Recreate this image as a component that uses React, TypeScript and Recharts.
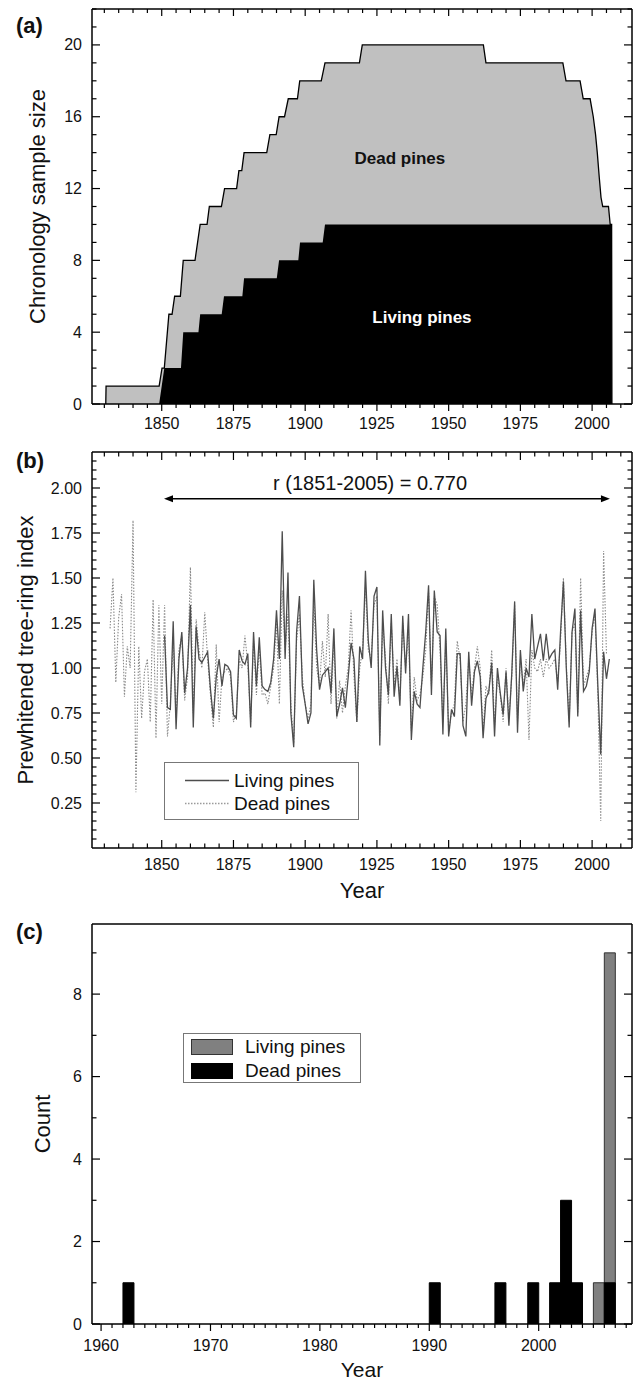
import React from 'react';
import {
  ComposedChart,
  BarChart,
  Area,
  Line,
  Bar,
  XAxis,
  YAxis,
  ReferenceDot,
  ReferenceLine,
  Legend,
} from 'recharts';

const FONT = "'Liberation Sans', Arial, Helvetica, sans-serif";
const INK = '#111';

// ---------------- helpers for tick lists ----------------
function range(a: number, b: number, step: number): number[] {
  const out: number[] = [];
  const n = Math.round((b - a) / step);
  for (let i = 0; i <= n; i++) out.push(Math.round((a + i * step) * 1000) / 1000);
  return out;
}

// ---------------- (a) chronology sample size ----------------
const totalYears = [
  1830.5, 1830.6, 1849.1, 1850.1, 1850.9, 1852.5, 1853.6, 1854.5, 1856.5, 1857.5,
  1861.6, 1863.4, 1865.8, 1866.6, 1870.8, 1871.9, 1876.1, 1876.9, 1877.9, 1878.7,
  1886.6, 1887.7, 1889.9, 1890.9, 1892.8, 1894.1, 1897.3, 1898.1, 1905.6, 1906.9,
  1918.9, 1919.9, 1962.1, 1963.0, 1989.8, 1990.9, 1995.8, 1996.9, 1999.3, 2000.4,
  2001.2, 2001.8, 2002.5, 2003.1, 2003.7, 2005.7, 2006.3, 2006.8, 2006.9,
];
const totalCounts = [
  0, 1, 1, 2, 2, 5, 5, 6, 6, 8,
  8, 10, 10, 11, 11, 12, 12, 13, 13, 14,
  14, 15, 15, 16, 16, 17, 17, 18, 18, 19,
  19, 20, 20, 19, 19, 18, 18, 17, 17, 16,
  15, 14, 12.6, 11.5, 11, 11, 10, 10, 0,
];
const livingYears = [
  1849.1, 1850.0, 1850.9, 1856.7, 1857.5, 1862.8, 1863.4, 1870.9, 1871.7, 1878.1,
  1878.7, 1890.1, 1890.9, 1897.6, 1898.2, 1906.1, 1906.9, 2006.8, 2006.9,
];
const livingCounts = [0, 1, 2, 2, 4, 4, 5, 5, 6, 6, 7, 7, 8, 8, 9, 9, 10, 10, 0];

const areaLabels = [
  { text: 'Dead pines', year: 1933, value: 13.7, color: '#111' },
  { text: 'Living pines', year: 1940.7, value: 4.86, color: '#fff' },
];

// ---------------- (b) prewhitened tree-ring index ----------------
const livingIndexFirstYear = 1851;
const livingIndex = [
  1.18, 0.78, 0.77, 1.26, 0.66, 1.05, 1.20, 0.86, 1.00, 1.35,
  0.67, 1.23, 1.05, 1.03, 1.06, 1.09, 0.88, 0.72, 0.95, 1.05,
  0.90, 1.02, 1.01, 0.98, 0.74, 0.72, 1.10, 1.04, 1.02, 1.08,
  0.67, 1.20, 0.90, 1.17, 0.90, 0.88, 0.87, 0.92, 1.05, 1.32,
  1.05, 1.76, 1.05, 1.53, 0.75, 0.56, 1.20, 1.40, 0.90, 0.80,
  0.69, 0.75, 1.49, 1.10, 0.88, 0.96, 0.98, 1.00, 0.86, 1.22,
  0.73, 0.80, 0.89, 0.78, 0.95, 1.14, 1.05, 0.70, 1.12, 1.05,
  1.54, 1.15, 1.00, 1.40, 1.45, 0.57, 1.32, 1.00, 0.85, 1.30,
  0.84, 1.01, 0.79, 1.29, 0.97, 1.30, 0.60, 0.87, 0.80, 0.78,
  1.00, 1.20, 1.46, 0.85, 1.43, 1.20, 1.18, 0.63, 1.22, 0.62,
  0.77, 0.73, 1.08, 1.08, 0.68, 0.62, 1.09, 0.79, 0.98, 1.04,
  0.95, 0.61, 0.83, 0.87, 1.03, 0.62, 1.00, 0.86, 0.74, 0.98,
  0.68, 0.97, 1.37, 0.64, 1.10, 0.87, 1.00, 0.95, 1.30, 1.05,
  1.12, 1.19, 1.04, 1.19, 1.05, 1.08, 1.10, 0.88, 1.20, 1.48,
  1.00, 0.67, 1.20, 1.33, 0.73, 1.32, 0.87, 0.90, 0.98, 1.22,
  1.33, 0.90, 0.52, 1.09, 0.94, 1.05,
];
const deadIndexFirstYear = 1832;
const deadIndex = [
  1.22, 1.50, 0.92, 1.28, 1.41, 0.84, 1.12, 1.00, 1.82,
  0.31, 1.12, 0.72, 0.98, 1.05, 0.70, 1.38, 0.61, 1.35, 0.80,
  1.35, 0.62, 0.80, 1.15, 0.72, 1.10, 1.18, 0.82, 0.95, 1.56,
  0.75, 1.27, 1.10, 1.00, 1.31, 1.05, 0.85, 0.67, 1.13, 0.70,
  0.95, 0.98, 1.00, 0.95, 0.70, 0.75, 1.05, 1.00, 1.18, 1.02,
  0.70, 1.15, 0.85, 1.12, 0.85, 0.86, 0.80, 0.90, 1.00, 1.25,
  0.80, 1.43, 1.10, 1.30, 0.80, 0.58, 1.15, 1.30, 0.95, 0.80,
  0.72, 0.80, 1.38, 1.00, 0.90, 1.15, 0.95, 1.30, 0.80, 1.15,
  0.72, 0.93, 0.75, 0.90, 1.00, 1.32, 0.95, 0.70, 1.00, 1.10,
  1.45, 1.10, 1.05, 1.35, 1.40, 0.62, 1.25, 1.05, 0.80, 1.25,
  0.90, 1.05, 0.82, 1.25, 1.00, 1.20, 0.65, 0.95, 0.82, 0.85,
  0.95, 1.10, 1.43, 0.90, 1.40, 1.35, 1.10, 0.70, 1.15, 0.65,
  0.75, 0.80, 1.15, 1.05, 0.70, 0.80, 1.05, 0.85, 1.00, 1.12,
  1.00, 0.65, 0.90, 0.85, 1.10, 0.68, 0.95, 0.85, 0.70, 1.00,
  0.72, 0.95, 1.35, 0.70, 1.05, 0.90, 1.05, 0.60, 1.10, 1.00,
  0.98, 1.05, 0.95, 1.05, 1.00, 1.02, 1.05, 0.92, 1.15, 1.50,
  1.02, 0.70, 1.20, 1.25, 0.75, 1.50, 0.90, 0.95, 1.00, 1.20,
  1.30, 0.85, 0.15, 1.65, 1.08,
];
const corrText = 'r (1851-2005) = 0.770';
const corrSpan = [1850.8, 2006.2];
const corrLevel = 1.94;
const corrTextPos = { year: 1922.6, value: 2.03 };

// ---------------- (c) death years ----------------
const livingDeathYears = [2005, 2006];
const livingDeathCounts = [1, 9];
const deadDeathYears = [1962, 1990, 1996, 1999, 2001, 2002, 2003, 2006];
const deadDeathCounts = [1, 1, 1, 1, 1, 3, 1, 1];

// ---------------- series names / colours ----------------
const LIVING = 'Living pines';
const DEAD = 'Dead pines';
const LINE_LIVING = '#4d4d4d';
const LINE_DEAD = '#8a8a8a';
const BAR_LIVING = '#808080';
const BAR_DEAD = '#000';

// ---------------- ticks ----------------
const yearMajorAB = [1850, 1875, 1900, 1925, 1950, 1975, 2000];
const yearTicksAB = range(1830, 2010, 5);
const sizeMajor = [0, 4, 8, 12, 16, 20];
const sizeTicks = range(0, 22, 1);
const indexMajor = [0.25, 0.5, 0.75, 1.0, 1.25, 1.5, 1.75, 2.0];
const indexTicks = range(0.05, 2.15, 0.05);
const yearMajorC = [1960, 1970, 1980, 1990, 2000];
const yearTicksC = range(1960, 2008, 1);
const countMajor = [0, 2, 4, 6, 8];
const countTicks = range(0, 9, 1);

const X_AB: [number, number] = [1825.7, 2013.9];
const X_C: [number, number] = [1959.17, 2008.53];

const AXIS_LINE = { stroke: '#000', strokeWidth: 1.5 };
const TICK_W = 1.2;
const TICK_FS = 16;

function isMajor(majors: number[], v: number) {
  return majors.some((m) => Math.abs(m - v) < 1e-6);
}

function xTick(majors: number[], majorLen: number, minorLen: number, dir: number, labelGap?: number) {
  return (props: any) => {
    const { x, y, payload } = props;
    const v = payload.value as number;
    const maj = isMajor(majors, v);
    const len = maj ? majorLen : minorLen;
    return (
      <g>
        <line x1={x} x2={x} y1={y} y2={y + dir * len} stroke="#000" strokeWidth={TICK_W} />
        {labelGap !== undefined && maj ? (
          <text x={x} y={y + labelGap} textAnchor="middle" dominantBaseline="central" fontFamily={FONT} fontSize={TICK_FS} fill={INK}>
            {String(v)}
          </text>
        ) : null}
      </g>
    );
  };
}

function yTick(majors: number[], majorLen: number, minorLen: number, dir: number, labelGap?: number, fmt?: (v: number) => string) {
  return (props: any) => {
    const { x, y, payload } = props;
    const v = payload.value as number;
    const maj = isMajor(majors, v);
    const len = maj ? majorLen : minorLen;
    return (
      <g>
        <line x1={x} x2={x + dir * len} y1={y} y2={y} stroke="#000" strokeWidth={TICK_W} />
        {labelGap !== undefined && maj ? (
          <text x={x - labelGap} y={y} textAnchor="end" dominantBaseline="central" fontFamily={FONT} fontSize={TICK_FS} fill={INK}>
            {fmt ? fmt(v) : String(v)}
          </text>
        ) : null}
      </g>
    );
  };
}

function yTitle(text: string, offset: number) {
  return (props: any) => {
    const vb = props.viewBox || {};
    const cx = vb.x + vb.width - offset;
    const cy = vb.y + vb.height / 2;
    return (
      <text x={cx} y={cy} transform={`rotate(-90, ${cx}, ${cy})`} textAnchor="middle" dominantBaseline="central" fontFamily={FONT} fontSize={22} fill={INK}>
        {text}
      </text>
    );
  };
}

function xTitle(text: string, gap: number, size = 22) {
  return (props: any) => {
    const vb = props.viewBox || {};
    return (
      <text x={vb.x + vb.width / 2} y={vb.y + gap} textAnchor="middle" dominantBaseline="central" fontFamily={FONT} fontSize={size} fill={INK}>
        {text}
      </text>
    );
  };
}

// Common axis props: axes get a 1px box (a zero-size axis is not drawn)
const AX = { tickSize: 0, tickMargin: 0, tickLine: false, axisLine: AXIS_LINE, interval: 0 as const, allowDataOverflow: true };

// ---------------- Panel (a) ----------------
function PanelA() {
  const totalData = totalYears.map((year, i) => ({ year, n: totalCounts[i] }));
  const livingData = livingYears.map((year, i) => ({ year, n: livingCounts[i] }));
  return (
    <ComposedChart width={636} height={440} margin={{ top: 8, right: 3, bottom: 35, left: 91 }}>
      <XAxis {...AX} xAxisId="b" type="number" dataKey="year" domain={X_AB} ticks={yearTicksAB} height={1}
        tick={xTick(yearMajorAB, 7, 4, 1, 19)} />
      <XAxis {...AX} xAxisId="t" orientation="top" type="number" dataKey="year" domain={X_AB} ticks={yearTicksAB} height={1}
        tick={xTick(yearMajorAB, 7, 4, 1)} />
      <YAxis {...AX} yAxisId="l" type="number" domain={[0, 22]} ticks={sizeTicks} width={1}
        tick={yTick(sizeMajor, 8, 4.5, 1, 10)} label={yTitle('Chronology sample size', 55)} />
      <YAxis {...AX} yAxisId="r" orientation="right" type="number" domain={[0, 22]} ticks={sizeTicks} width={1}
        tick={yTick(sizeMajor, 8, 4.5, -1)} />
      <Area xAxisId="b" yAxisId="l" data={totalData} dataKey="n" name={DEAD} type="linear" fill="#c0c0c0" fillOpacity={1}
        stroke="#000" strokeWidth={1.3} dot={false} activeDot={false} isAnimationActive={false} />
      <Area xAxisId="b" yAxisId="l" data={livingData} dataKey="n" name={LIVING} type="linear" fill="#000" fillOpacity={1}
        stroke="none" dot={false} activeDot={false} isAnimationActive={false} />
      {areaLabels.map((l) => (
        <ReferenceDot key={l.text} xAxisId="b" yAxisId="l" x={l.year} y={l.value} r={1} fill="none" stroke="none" ifOverflow="visible"
          label={{ value: l.text, position: 'center', fill: l.color, fontSize: 17, fontWeight: 'bold', fontFamily: FONT }} />
      ))}
    </ComposedChart>
  );
}

// ---------------- Panel (b) ----------------
const legendBItems = [
  { name: LIVING, color: LINE_LIVING, dash: undefined as string | undefined, width: 1.6 },
  { name: DEAD, color: '#9a9a9a', dash: '1.5 1.5', width: 1.3 },
];

function LegendB() {
  return (
    <div style={{ boxSizing: 'border-box', width: 195, height: 58, border: '1px solid #777', background: '#fff', position: 'relative', fontFamily: FONT, fontSize: 19, color: INK }}>
      {legendBItems.map((it, i) => (
        <div key={it.name} style={{ position: 'absolute', left: 0, top: i === 0 ? 6 : 29, height: 23, display: 'flex', alignItems: 'center', whiteSpace: 'nowrap' }}>
          <svg width={66} height={23} style={{ display: 'block' }}>
            <line x1={20} x2={64} y1={11.5} y2={11.5} stroke={it.color} strokeWidth={it.width} strokeDasharray={it.dash} />
          </svg>
          <span style={{ marginLeft: 3, lineHeight: '23px' }}>{it.name}</span>
        </div>
      ))}
    </div>
  );
}

function arrowShape(p: any) {
  const { x1, y1, x2, y2 } = p;
  const h = 9;
  const w = 3.5;
  return (
    <g>
      <line x1={x1 + h - 1} y1={y1} x2={x2 - h + 1} y2={y2} stroke="#000" strokeWidth={1.4} />
      <polygon points={`${x1},${y1} ${x1 + h},${y1 - w} ${x1 + h},${y1 + w}`} fill="#000" />
      <polygon points={`${x2},${y2} ${x2 - h},${y2 - w} ${x2 - h},${y2 + w}`} fill="#000" />
    </g>
  );
}

function PanelB() {
  const livingData = livingIndex.map((v, i) => ({ year: livingIndexFirstYear + i, v }));
  const deadData = deadIndex.map((v, i) => ({ year: deadIndexFirstYear + i, v }));
  return (
    <ComposedChart width={636} height={472} margin={{ top: 11, right: 3, bottom: 63, left: 91 }}>
      <XAxis {...AX} xAxisId="b" type="number" dataKey="year" domain={X_AB} ticks={yearTicksAB} height={1}
        tick={xTick(yearMajorAB, 8, 4.5, -1, 16)} label={xTitle('Year', 42)} />
      <XAxis {...AX} xAxisId="t" orientation="top" type="number" dataKey="year" domain={X_AB} ticks={yearTicksAB} height={1}
        tick={xTick(yearMajorAB, 8, 4.5, 1)} />
      <YAxis {...AX} yAxisId="l" type="number" domain={[0, 2.2]} ticks={indexTicks} width={1}
        tick={yTick(indexMajor, 8, 4.5, 1, 10, (v) => v.toFixed(2))} label={yTitle('Prewhitened tree-ring index', 67)} />
      <YAxis {...AX} yAxisId="r" orientation="right" type="number" domain={[0, 2.2]} ticks={indexTicks} width={1}
        tick={yTick(indexMajor, 8, 4.5, -1)} />
      <Line xAxisId="b" yAxisId="l" data={deadData} dataKey="v" name={DEAD} type="linear" stroke={LINE_DEAD} strokeWidth={1.1}
        strokeDasharray="1.5 1.5" dot={false} activeDot={false} isAnimationActive={false} />
      <Line xAxisId="b" yAxisId="l" data={livingData} dataKey="v" name={LIVING} type="linear" stroke={LINE_LIVING} strokeWidth={1.3}
        dot={false} activeDot={false} isAnimationActive={false} />
      <ReferenceLine xAxisId="b" yAxisId="l" segment={[{ x: corrSpan[0], y: corrLevel }, { x: corrSpan[1], y: corrLevel }]}
        ifOverflow="visible" shape={arrowShape} />
      <ReferenceDot xAxisId="b" yAxisId="l" x={corrTextPos.year} y={corrTextPos.value} r={1} fill="none" stroke="none" ifOverflow="visible"
        label={{ value: corrText, position: 'center', fill: INK, fontSize: 20, fontFamily: FONT }} />
      <Legend layout="horizontal" verticalAlign="middle" align="center" content={() => <LegendB />}
        wrapperStyle={{ left: 164, top: 322, width: 195, height: 58, margin: 0, padding: 0 }} />
    </ComposedChart>
  );
}

// ---------------- Panel (c) ----------------
const legendCItems = [
  { name: LIVING, fill: BAR_LIVING, border: '#333' },
  { name: DEAD, fill: BAR_DEAD, border: '#000' },
];

function LegendC() {
  return (
    <div style={{ boxSizing: 'border-box', width: 178, height: 50, border: '1px solid #777', background: '#fff', position: 'relative', fontFamily: FONT, fontSize: 19, color: INK }}>
      {legendCItems.map((it, i) => (
        <div key={it.name} style={{ position: 'absolute', left: 7, top: i === 0 ? 1 : 25, height: 24, display: 'flex', alignItems: 'center', whiteSpace: 'nowrap' }}>
          <div style={{ boxSizing: 'border-box', width: 42, height: 16, background: it.fill, border: `1px solid ${it.border}` }} />
          <span style={{ marginLeft: 12, lineHeight: '24px' }}>{it.name}</span>
        </div>
      ))}
    </div>
  );
}

function PanelC() {
  const years = Array.from(new Set([...livingDeathYears, ...deadDeathYears])).sort((a, b) => a - b);
  const table = years.map((y) => {
    const li = livingDeathYears.indexOf(y);
    const di = deadDeathYears.indexOf(y);
    return {
      bin: y + 0.5,
      living: li >= 0 ? livingDeathCounts[li] : null,
      dead: di >= 0 ? deadDeathCounts[di] : null,
    };
  });
  return (
    <BarChart width={636} height={482} data={table} margin={{ top: 23, right: 3, bottom: 57, left: 91 }} barCategoryGap={0} barGap={0}>
      <XAxis {...AX} xAxisId="b" type="number" dataKey="bin" domain={X_C} ticks={yearTicksC} height={1}
        tick={xTick(yearMajorC, 7, 4, 1, 21)} label={xTitle('Year', 45, 21)} />
      <XAxis {...AX} xAxisId="t" orientation="top" type="number" dataKey="bin" domain={X_C} height={1} tick={false} />
      <YAxis {...AX} yAxisId="l" type="number" domain={[0, 9.7]} ticks={countTicks} width={1}
        tick={yTick(countMajor, 8, 4.5, 1, 10)} label={yTitle('Count', 50)} />
      <YAxis {...AX} yAxisId="r" orientation="right" type="number" domain={[0, 9.7]} ticks={countTicks} width={1}
        tick={yTick(countMajor, 8, 4.5, -1)} />
      <Bar xAxisId="b" yAxisId="l" dataKey="living" name={LIVING} fill={BAR_LIVING} stroke="#333" strokeWidth={1} isAnimationActive={false} />
      <Bar xAxisId="t" yAxisId="l" dataKey="dead" name={DEAD} fill={BAR_DEAD} stroke="#000" strokeWidth={1} isAnimationActive={false} />
      <Legend layout="horizontal" verticalAlign="middle" align="center" content={() => <LegendC />}
        wrapperStyle={{ left: 183, top: 133, width: 178, height: 50, margin: 0, padding: 0 }} />
    </BarChart>
  );
}

const letterStyle = (top: number): React.CSSProperties => ({
  position: 'absolute',
  left: 16,
  top,
  fontFamily: FONT,
  fontWeight: 'bold',
  fontSize: 22,
  lineHeight: '24px',
  color: INK,
});

export default function App() {
  return (
    <div style={{ position: 'absolute', left: 0, top: 0, width: 636, height: 1382, background: '#fff' }}>
      <div style={{ position: 'absolute', left: 0, top: 0 }}>
        <PanelA />
      </div>
      <div style={{ position: 'absolute', left: 0, top: 900 }}>
        <PanelC />
      </div>
      <div style={{ position: 'absolute', left: 0, top: 440 }}>
        <PanelB />
      </div>
      <div style={letterStyle(14)}>(a)</div>
      <div style={letterStyle(449)}>(b)</div>
      <div style={letterStyle(920)}>(c)</div>
    </div>
  );
}
